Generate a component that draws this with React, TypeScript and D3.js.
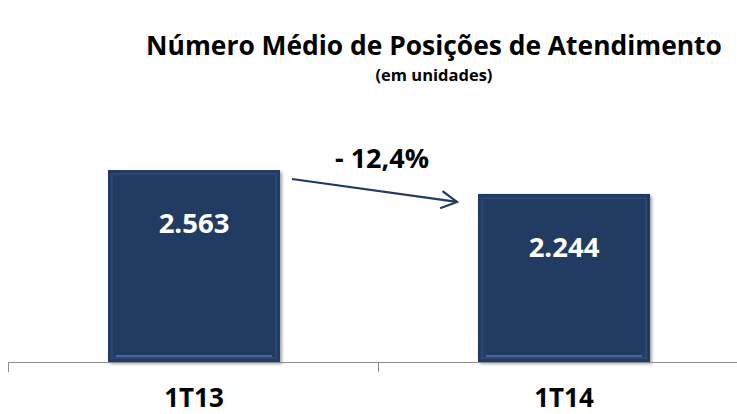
import * as d3 from 'd3'

const categories = ['1T13', '1T14']
const values = [2563, 2244]
const valueLabels = ['2.563', '2.244']
const changeLabel = '- 12,4%'
const title = 'Número Médio de Posições de Atendimento'
const subtitle = '(em unidades)'

const W = 737
const H = 414
const FONT = '"Open Sans", "Liberation Sans", sans-serif'
const NAVY = '#203a64'

export default function App() {
  const baseY = 362
  const x = d3.scaleBand<string>().domain(categories).range([8, 748]).padding(0)
  const y = d3.scaleLinear().domain([0, 3000]).range([baseY, baseY - 224.7])
  const barW = x.bandwidth() * 0.465

  const bars = categories.map((c, i) => {
    const cx = (x(c) ?? 0) + x.bandwidth() / 2 + 1
    return { c, i, x0: cx - barW / 2, top: y(values[i]), cx }
  })

  // arrow from the first bar's top-right towards the second bar
  const a0 = { x: bars[0].x0 + barW + 12, y: bars[0].top + 9 }
  const a1 = { x: bars[1].x0 - 21, y: bars[1].top + 8 }
  const ang = Math.atan2(a1.y - a0.y, a1.x - a0.x)
  const hl = 18
  const head = [ang - 0.5, ang + 0.5].map(t => [a1.x - hl * Math.cos(t), a1.y - hl * Math.sin(t)])

  return (
    <svg width={W} height={H} style={{ position: 'absolute', left: 0, top: 0, background: '#fff' }}>
      <defs>
        <filter id="shadow" x="-10%" y="-10%" width="130%" height="130%">
          <feDropShadow dx="2" dy="2" stdDeviation="1.5" floodColor="#000" floodOpacity="0.35" />
        </filter>
      </defs>

      <text x={434} y={55} textAnchor="middle" fontFamily={FONT} fontWeight={700} fontSize={26.4} fill="#000">
        {title}
      </text>
      <text x={434} y={81} textAnchor="middle" fontFamily={FONT} fontWeight={700} fontSize={16.5} fill="#000">
        {subtitle}
      </text>

      {bars.map(b => (
        <g key={b.c}>
          <rect x={b.x0} y={b.top} width={barW} height={baseY - b.top} fill={NAVY} filter="url(#shadow)" />
          <rect x={b.x0 + 4} y={b.top + 4} width={barW - 8} height={baseY - b.top - 8}
            fill="none" stroke="#2b4773" strokeWidth={2} />
          <line x1={b.x0 + 8} x2={b.x0 + barW - 8} y1={baseY - 6} y2={baseY - 6} stroke="#4a6796" strokeWidth={2} />
          <text x={b.cx} y={b.top + 63} textAnchor="middle" fontFamily={FONT} fontWeight={700} fontSize={27.5} fill="#fff">
            {valueLabels[b.i]}
          </text>
        </g>
      ))}

      <line x1={8} x2={W} y1={baseY + 0.5} y2={baseY + 0.5} stroke="#8c8c8c" strokeWidth={1} />
      {[8, ...categories.map(c => (x(c) ?? 0) + x.bandwidth())].map((t, i) => (
        <line key={i} x1={t + 0.5} x2={t + 0.5} y1={baseY} y2={baseY + 10} stroke="#8c8c8c" strokeWidth={1} />
      ))}

      {bars.map(b => (
        <text key={b.c} x={b.cx} y={407} textAnchor="middle" fontFamily={FONT} fontWeight={700} fontSize={26} fill="#000">
          {b.c}
        </text>
      ))}

      <line x1={a0.x} y1={a0.y} x2={a1.x} y2={a1.y} stroke={NAVY} strokeWidth={2.2} />
      <polyline points={`${head[0].join(',')} ${a1.x},${a1.y} ${head[1].join(',')}`}
        fill="none" stroke={NAVY} strokeWidth={2.2} />
      <text x={382} y={168} textAnchor="middle" fontFamily={FONT} fontWeight={700} fontSize={27} fill="#000">
        {changeLabel}
      </text>
    </svg>
  )
}
